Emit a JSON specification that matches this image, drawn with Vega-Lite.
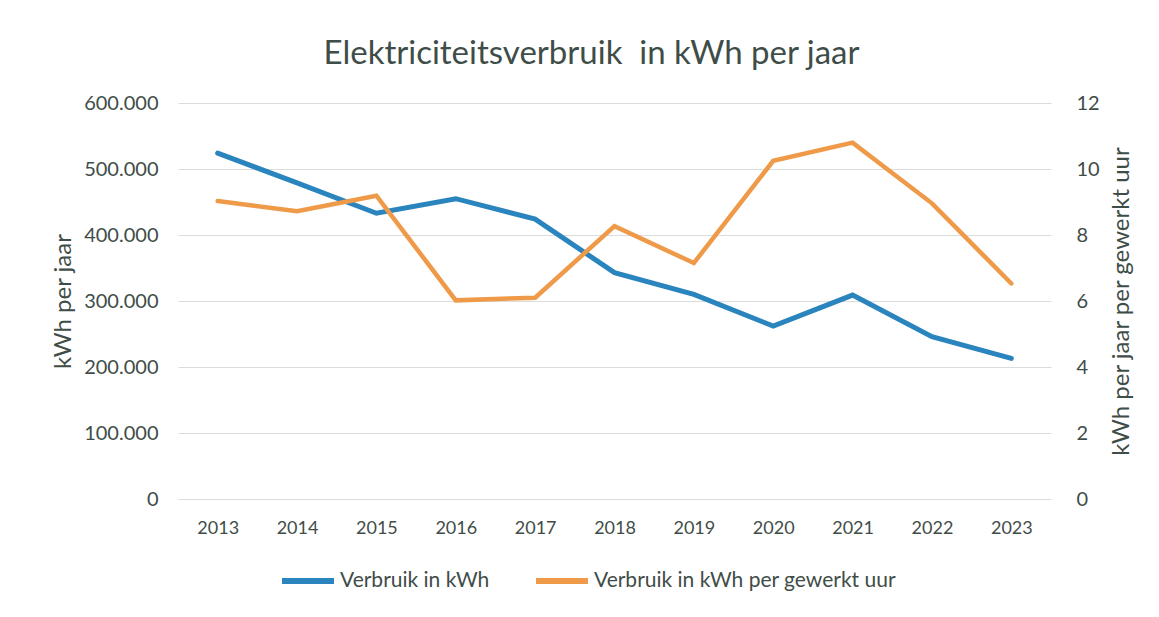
{
  "$schema": "https://vega.github.io/schema/vega-lite/v6.json",
  "width": 873,
  "height": 396,
  "autosize": {"type": "none"},
  "padding": {"left": 178, "top": 103, "right": 108, "bottom": 118},
  "background": "white",
  "title": {
    "text": "Elektriciteitsverbruik\u00a0 in kWh per jaar",
    "anchor": "middle",
    "fontSize": 33,
    "font": "Lato",
    "fontWeight": "normal",
    "color": "#3f4d48",
    "offset": 22,
    "dx": -23
  },
  "data": {
    "values": [
      {"jaar": "2013", "kwh": 524000, "per_uur": 9.03},
      {"jaar": "2014", "kwh": 479000, "per_uur": 8.72},
      {"jaar": "2015", "kwh": 433000, "per_uur": 9.19},
      {"jaar": "2016", "kwh": 455000, "per_uur": 6.02},
      {"jaar": "2017", "kwh": 424000, "per_uur": 6.1},
      {"jaar": "2018", "kwh": 343000, "per_uur": 8.27},
      {"jaar": "2019", "kwh": 310000, "per_uur": 7.15},
      {"jaar": "2020", "kwh": 262000, "per_uur": 10.25},
      {"jaar": "2021", "kwh": 309000, "per_uur": 10.8},
      {"jaar": "2022", "kwh": 246000, "per_uur": 8.96},
      {"jaar": "2023", "kwh": 213000, "per_uur": 6.53}
    ]
  },
  "encoding": {
    "x": {
      "field": "jaar",
      "type": "ordinal",
      "scale": {"type": "point", "padding": 0.5},
      "axis": {
        "title": null,
        "labelAngle": 0,
        "domain": false,
        "ticks": false,
        "labelPadding": 20,
        "labelFontSize": 18,
        "labelColor": "#3f4d48",
        "labelFont": "Lato"
      }
    }
  },
  "layer": [
    {
      "mark": {"type": "line", "strokeWidth": 5, "strokeCap": "round"},
      "encoding": {
        "y": {
          "field": "kwh",
          "type": "quantitative",
          "scale": {"domain": [0, 600000]},
          "axis": {
            "title": "kWh per jaar",
            "values": [0, 100000, 200000, 300000, 400000, 500000, 600000],
            "labelExpr": "replace(format(datum.value, ','), ',', '.')",
            "domain": false,
            "ticks": false,
            "labelPadding": 20,
            "labelFontSize": 20,
            "labelColor": "#3f4d48",
            "labelFont": "Lato",
            "titleFont": "Lato",
            "titleFontSize": 24,
            "titleFontWeight": "normal",
            "titleColor": "#3f4d48",
            "titlePadding": 8,
            "gridColor": "#dcdcdc",
            "gridWidth": 1
          }
        },
        "color": {"datum": "Verbruik in kWh"}
      }
    },
    {
      "mark": {"type": "line", "strokeWidth": 4.5, "strokeCap": "round"},
      "encoding": {
        "y": {
          "field": "per_uur",
          "type": "quantitative",
          "scale": {"domain": [0, 12]},
          "axis": {
            "title": "kWh per jaar per gewerkt uur",
            "orient": "right",
            "values": [0, 2, 4, 6, 8, 10, 12],
            "grid": false,
            "domain": false,
            "ticks": false,
            "labelPadding": 25,
            "labelFontSize": 20,
            "labelColor": "#3f4d48",
            "labelFont": "Lato",
            "titleFont": "Lato",
            "titleFontSize": 24,
            "titleFontWeight": "normal",
            "titleColor": "#3f4d48",
            "titleAngle": 270,
            "titleBaseline": "top",
            "titlePadding": 10
          }
        },
        "color": {"datum": "Verbruik in kWh per gewerkt uur"}
      }
    }
  ],
  "resolve": {"scale": {"y": "independent"}},
  "config": {
    "view": {"stroke": null},
    "range": {"category": ["#2a84bd", "#ef9a48"]},
    "legend": {
      "orient": "none",
      "direction": "horizontal",
      "legendX": 101,
      "legendY": 449,
      "title": null,
      "symbolType": "stroke",
      "symbolSize": 2700,
      "symbolStrokeWidth": 6,
      "labelFontSize": 21,
      "labelFont": "Lato",
      "labelColor": "#3f4d48",
      "labelLimit": 400,
      "columnPadding": 34,
      "symbolOffset": 0,
      "labelOffset": 3
    }
  }
}
